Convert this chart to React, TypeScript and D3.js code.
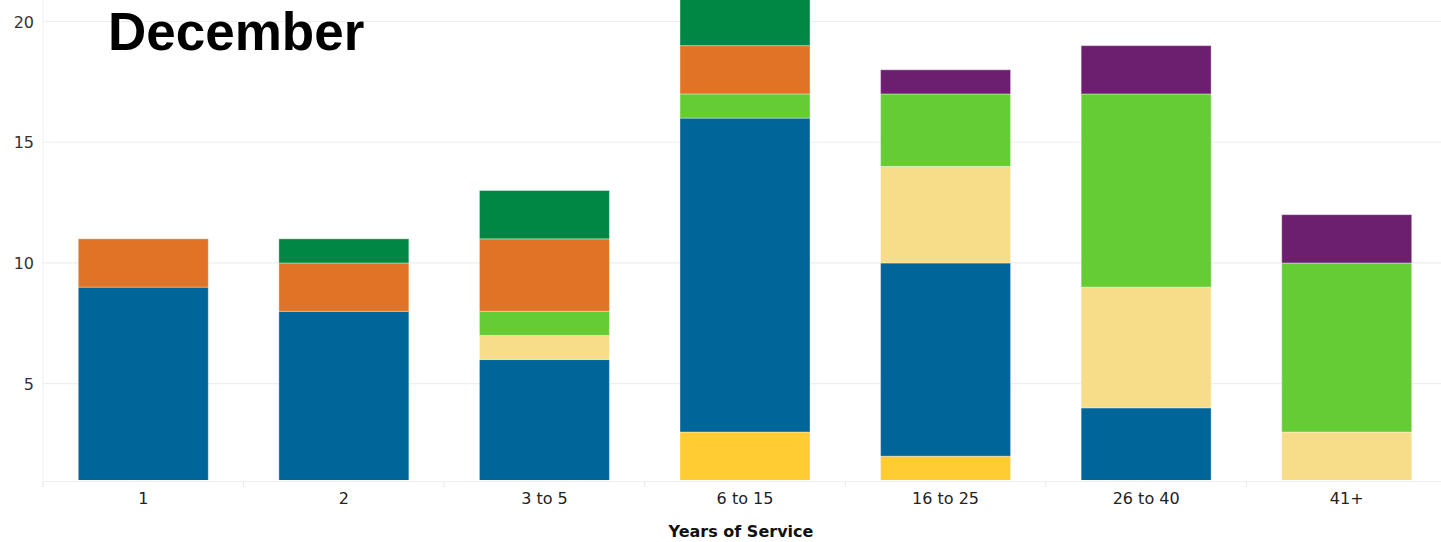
import React from "react";
import * as d3 from "d3";

const categories = ["1", "2", "3 to 5", "6 to 15", "16 to 25", "26 to 40", "41+"];
const seriesNames = ["s1", "s2", "s3", "s4", "s5", "s6", "s7"];
const s1 = [0, 0, 0, 3, 2, 0, 0];
const s2 = [9, 8, 6, 13, 8, 4, 0];
const s3 = [0, 0, 1, 0, 4, 5, 3];
const s4 = [0, 0, 1, 1, 3, 8, 7];
const s5 = [2, 2, 3, 2, 0, 0, 0];
const s6 = [0, 1, 2, 2, 0, 0, 0];
const s7 = [0, 0, 0, 0, 1, 2, 2];
const seriesColors = ["#FFCC33", "#006699", "#F7DC8A", "#66CC33", "#E07325", "#008744", "#6B1F6E"];
const yTicks = [5, 10, 15, 20];
const titleText = "December";
const xTitle = "Years of Service";

export default function App() {
  const W = 1441, H = 542;
  const left = 43, right = 1447, top = 0, bottom = 480;
  const all = [s1, s2, s3, s4, s5, s6, s7];
  const rows = categories.map((c, i) => {
    const r: any = { cat: c };
    seriesNames.forEach((n, j) => (r[n] = all[j][i]));
    return r;
  });
  const stacked = d3.stack().keys(seriesNames)(rows as any);
  const x = d3.scaleBand().domain(categories).range([left, right]).paddingInner(0.352).paddingOuter(0.176);
  const y = d3.scaleLinear().domain([1, 20]).range([480.3, 21.5]);
  const step = x.step();
  return (
    <svg width={W} height={H} style={{ position: "absolute", left: 0, top: 0, background: "#fff" }}>
      <defs>
        <clipPath id="plot">
          <rect x={left} y={top} width={right - left} height={bottom - top} />
        </clipPath>
      </defs>
      {yTicks.map((t) => (
        <line key={t} x1={left} x2={right} y1={y(t)} y2={y(t)} stroke="#eeeeee" strokeWidth={1.2} />
      ))}
      <line x1={left} x2={left} y1={0} y2={bottom + 2} stroke="#f0f0f0" strokeWidth={1} />
      <line x1={left} x2={right} y1={bottom + 1.5} y2={bottom + 1.5} stroke="#f0f0f0" strokeWidth={1} />
      {categories.map((c, i) => (
        <line key={"t" + i} x1={left + i * step} x2={left + i * step} y1={bottom + 1.5} y2={bottom + 7} stroke="#e8e8e8" strokeWidth={1} />
      ))}
      <g clipPath="url(#plot)">
        {stacked.map((layer, j) =>
          layer.map((d, i) =>
            d[1] - d[0] > 0 ? (
              <rect
                key={j + "-" + i}
                x={x(categories[i])!}
                width={x.bandwidth()}
                y={y(d[1])}
                height={y(d[0]) - y(d[1])}
                fill={seriesColors[j]}
                stroke="rgba(255,255,255,0.35)"
                strokeWidth={1}
              />
            ) : null
          )
        )}
      </g>
      {yTicks.map((t) => (
        <text key={"l" + t} x={34} y={y(t) + 6} textAnchor="end" fontFamily="DejaVu Sans, Verdana, sans-serif" fontSize={16} fill="#333">
          {t}
        </text>
      ))}
      {categories.map((c) => (
        <text key={"x" + c} x={x(c)! + x.bandwidth() / 2} y={504} textAnchor="middle" fontFamily="DejaVu Sans, Verdana, sans-serif" fontSize={16} fill="#222">
          {c}
        </text>
      ))}
      <text x={741} y={537} textAnchor="middle" fontFamily="DejaVu Sans, Verdana, sans-serif" fontWeight="bold" fontSize={16} fill="#111">
        {xTitle}
      </text>
      <text x={108} y={50} fontFamily="Liberation Sans, Arial, sans-serif" fontWeight="bold" fontSize={53} fill="#000">
        {titleText}
      </text>
    </svg>
  );
}
